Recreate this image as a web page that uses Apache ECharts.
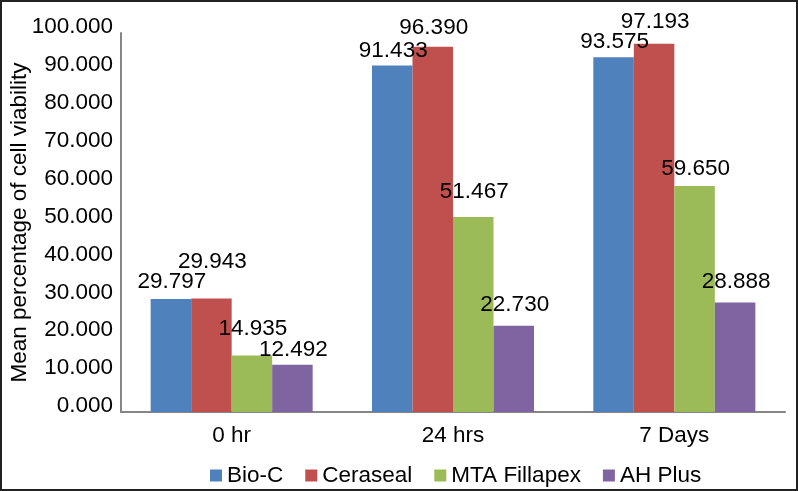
<!DOCTYPE html>
<html>
<head>
<meta charset="utf-8">
<script src="https://cdn.jsdelivr.net/npm/echarts@6/dist/echarts.min.js"></script>
<style>html,body{margin:0;padding:0;background:#fff;}#c{width:798px;height:491px;}</style>
</head>
<body>
<div id="c"></div>
<script>
// Data
var categories = ['0 hr', '24 hrs', '7 Days'];
var seriesNames = ['Bio-C', 'Ceraseal', 'MTA Fillapex', 'AH Plus'];
var bioC = [29.797, 91.433, 93.575];
var ceraseal = [29.943, 96.390, 97.193];
var mtaFillapex = [14.935, 51.467, 59.650];
var ahPlus = [12.492, 22.730, 28.888];
var yTicks = { min: 0, max: 100, interval: 10 };

// Styling (label lift above bar top, px) — mimics staggered label placement
var labelLift = [
  [17, 14, 15],
  [36, 18, 21],
  [26, 25, 17],
  [14, 21, 20]
];
var colors = ['#4F81BD', '#C0504D', '#9BBB59', '#8064A2'];
var FONT = 'Liberation Sans, Arial, sans-serif';
var FS = 22.5;

var values = [bioC, ceraseal, mtaFillapex, ahPlus];
var series = values.map(function (arr, si) {
  return {
    name: seriesNames[si],
    type: 'bar',
    barGap: '0%',
    barCategoryGap: '26.8%',
    itemStyle: { color: colors[si] },
    data: arr.map(function (v, ci) {
      return {
        value: v,
        label: { offset: [1, -(labelLift[si][ci] - 11)] }
      };
    }),
    label: {
      show: true,
      position: 'top',
      distance: 0,
      color: '#000',
      fontSize: FS,
      fontFamily: FONT,
      formatter: function (p) { return p.value.toFixed(3); }
    }
  };
});

var chart = echarts.init(document.getElementById('c'));
chart.setOption({
  animation: false,
  textStyle: { fontFamily: FONT },
  graphic: [{
    type: 'rect',
    shape: { x: 1, y: 1, width: 796, height: 489 },
    style: { fill: 'none', stroke: '#222', lineWidth: 2 },
    silent: true
  }],
  grid: { left: 121, right: 13, top: 33, bottom: 79, containLabel: false, outerBoundsMode: 'none' },
  legend: {
    data: seriesNames,
    left: 205,
    top: 459,
    icon: 'rect',
    itemWidth: 12,
    itemHeight: 12,
    itemGap: 22,
    textStyle: { fontSize: FS, color: '#000', fontFamily: FONT }
  },
  xAxis: {
    type: 'category',
    data: categories,
    axisTick: { show: false },
    axisLine: { lineStyle: { color: '#868686', width: 2 } },
    axisLabel: { color: '#000', fontSize: FS, margin: 12, fontFamily: FONT }
  },
  yAxis: {
    type: 'value',
    min: yTicks.min,
    max: yTicks.max,
    interval: yTicks.interval,
    name: 'Mean percentage of cell viability',
    nameLocation: 'middle',
    nameGap: 90,
    nameMoveOverlap: false,
    nameTextStyle: { color: '#000', fontSize: FS, fontFamily: FONT },
    splitLine: { show: false },
    axisTick: { show: false },
    axisLine: { show: true, lineStyle: { color: '#868686', width: 2 } },
    axisLabel: {
      color: '#000', fontSize: FS, margin: 8, fontFamily: FONT,
      verticalAlign: 'bottom', lineHeight: 12,
      formatter: function (v) { return v.toFixed(3); }
    }
  },
  series: series
});
</script>
</body>
</html>
